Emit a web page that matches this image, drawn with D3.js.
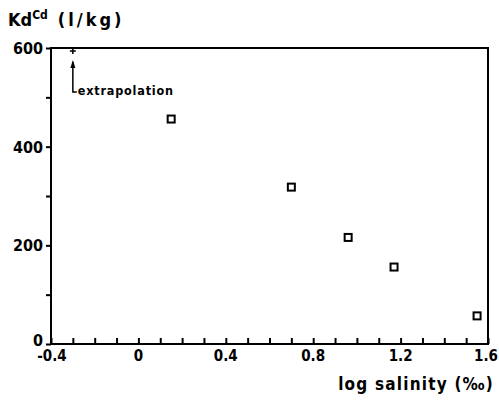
<!DOCTYPE html>
<html>
<head>
<meta charset="utf-8">
<script src="https://cdn.jsdelivr.net/npm/d3@7"></script>
<style>
  body { margin: 0; background: #fff; }
  text { font-family: "DejaVu Sans Condensed", "DejaVu Sans", sans-serif; font-weight: bold; fill: #000; }
</style>
</head>
<body>
<div id="chart"></div>
<script>
// values
let salinity = [0.15, 0.70, 0.96, 1.17, 1.55];
let kd = [456, 318, 216, 156, 57];
let extrapX = -0.3, extrapY = 594;
let xTicks = [-0.4, 0, 0.4, 0.8, 1.2, 1.6];
let yTicks = [0, 200, 400, 600];

let margin = {top: 48, right: 11, bottom: 59, left: 51},
    width = 499 - margin.left - margin.right,
    height = 403 - margin.top - margin.bottom;

let svg = d3.select("#chart")
            .append("svg")
            .attr("width", 499)
            .attr("height", 403)
            .append("g")
            .attr("transform", "translate(" + margin.left + "," + margin.top + ")");

let x = d3.scaleLinear().domain([-0.4, 1.6]).range([0, width]);
let y = d3.scaleLinear().domain([0, 600]).range([height, 0]);

// frame
svg.append("rect")
   .attr("x", 0).attr("y", 0)
   .attr("width", width).attr("height", height)
   .attr("fill", "none")
   .attr("stroke", "#000")
   .attr("stroke-width", 2);

// x axis: inward ticks every 0.1
let xAxis = svg.append("g")
   .attr("transform", "translate(0," + height + ")")
   .call(d3.axisBottom(x).tickValues(d3.range(-4, 17).map(d => d / 10))
           .tickSize(-6).tickFormat(""));
xAxis.select(".domain").remove();
xAxis.selectAll("line").attr("stroke-width", 2);

svg.append("g")
   .attr("transform", "translate(0," + height + ")")
   .selectAll("text")
   .data(xTicks)
   .enter()
   .append("text")
   .attr("x", d => x(d))
   .attr("y", 17)
   .attr("text-anchor", d => d === 1.6 ? "end" : "middle")
   .attr("dx", d => d === 1.6 ? 10 : d === -0.4 ? 1 : 0)
   .style("font-size", "15px")
   .text(d => d === 0 ? "0" : (d < 0 ? "-" : "") + d3.format(".1f")(Math.abs(d)));

// y axis: outward ticks every 100
let yAxis = svg.append("g")
   .call(d3.axisLeft(y).tickValues(d3.range(0, 601, 100)).tickSize(5).tickFormat(""));
yAxis.select(".domain").remove();
yAxis.selectAll("line").attr("stroke-width", 2);

svg.append("g")
   .selectAll("text")
   .data(yTicks)
   .enter()
   .append("text")
   .attr("x", -8)
   .attr("y", d => y(d) + (d === 0 ? 2 : 6))
   .attr("text-anchor", "end")
   .style("font-size", "16px")
   .text(d => d);

// data squares
svg.append("g")
   .selectAll("rect")
   .data(salinity)
   .enter()
   .append("rect")
   .attr("x", (d, i) => x(d) - 3.5)
   .attr("y", (d, i) => y(kd[i]) - 3.5)
   .attr("width", 7)
   .attr("height", 7)
   .attr("fill", "#fff")
   .attr("stroke", "#000")
   .attr("stroke-width", 2);

// extrapolation marker
let ex = x(extrapX), ey = y(extrapY);
svg.append("path")
   .attr("d", "M" + (ex - 3) + "," + ey + "h6M" + ex + "," + (ey - 3) + "v6")
   .attr("stroke", "#000").attr("stroke-width", 1.5);
svg.append("path")
   .attr("d", "M" + ex + "," + (ey + 11) + "V" + (ey + 41) + "H" + (ex + 4))
   .attr("fill", "none").attr("stroke", "#000").attr("stroke-width", 1.5);
svg.append("path")
   .attr("d", "M" + (ex - 2.5) + "," + (ey + 17) + "L" + ex + "," + (ey + 9) + "L" + (ex + 2.5) + "," + (ey + 17) + "Z")
   .attr("fill", "#000");
svg.append("text")
   .attr("x", ex + 5)
   .attr("y", ey + 44)
   .style("font-size", "12.5px")
   .style("letter-spacing", "0.8px")
   .text("extrapolation");

// axis titles
let title = svg.append("text")
   .attr("x", 8 - margin.left)
   .attr("y", 26 - margin.top)
   .style("font-size", "18px");
title.append("tspan").text("Kd");
title.append("tspan").attr("dy", -7).style("font-size", "12px").text("Cd");
title.append("tspan").attr("dy", 7).attr("dx", 10).style("letter-spacing", "3px").text("(l/kg)");

svg.append("text")
   .attr("x", width + 6)
   .attr("y", height + 46)
   .attr("text-anchor", "end")
   .style("font-size", "17px")
   .style("letter-spacing", "1.2px")
   .text("log salinity (‰)");
</script>
</body>
</html>
